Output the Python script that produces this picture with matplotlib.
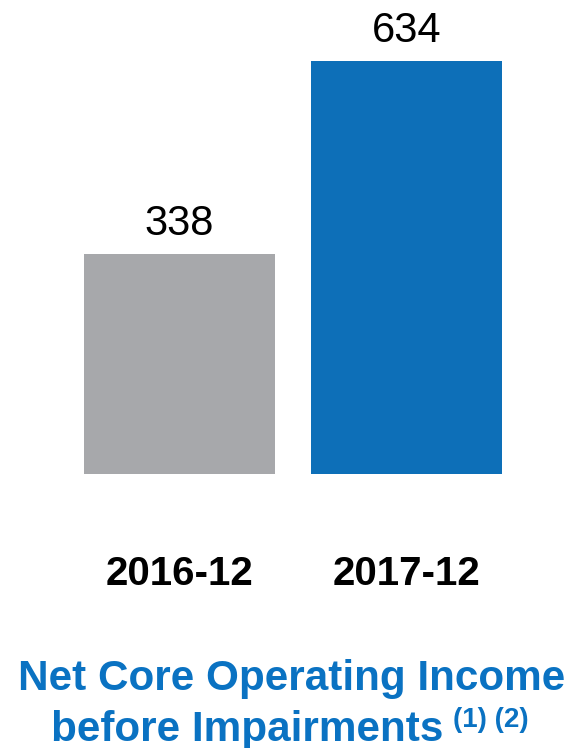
import matplotlib
matplotlib.use('Agg')
import matplotlib.pyplot as plt
import matplotlib.transforms as mtransforms

plt.rcParams['font.family'] = ['Liberation Sans', 'DejaVu Sans']

periods = ['2016-12', '2017-12']
values = [338, 634]
bar_colors = ['#A7A8AB', '#0D6FB8']
title_color = '#0A72C2'

fig = plt.figure(figsize=(5.72, 7.48), dpi=100)
# axes placed so bar baseline and tallest top line up with the reference
ax = fig.add_axes([0, (748 - 473.7) / 748, 1, 412.7 / 748])
ax.set_xlim(-179.5 / 227, (572 - 179.5) / 227)
ax.set_ylim(0, max(values))
ax.axis('off')

x = list(range(len(values)))
ax.bar(x, values, width=0.84, color=bar_colors, clip_on=False)

for xi, v in zip(x, values):
    ax.annotate(str(v), (xi, v), xytext=(0, 13.5), textcoords='offset points',
                ha='center', va='baseline', fontsize=30, color='black',
                annotation_clip=False)

trans = mtransforms.blended_transform_factory(ax.transData, fig.transFigure)
for xi, p in zip(x, periods):
    ax.text(xi, (748 - 585) / 748, p, transform=trans, ha='center',
            va='baseline', fontsize=29, fontweight='bold', color='black')

fig.text(291.5 / 572, (748 - 690) / 748, 'Net Core Operating Income',
         ha='center', va='baseline', fontsize=30.4, fontweight='bold',
         color=title_color)

# second title line plus superscript notes, placed after measuring
line2 = fig.text(51 / 572, (748 - 741) / 748, 'before Impairments',
                 ha='left', va='baseline', fontsize=30.4, fontweight='bold',
                 color=title_color)
renderer = fig.canvas.get_renderer()
bb = line2.get_window_extent(renderer)
fig.text((bb.x1 + 10) / 572, (748 - 727) / 748, '(1) (2)',
         ha='left', va='baseline', fontsize=20, fontweight='bold',
         color=title_color)

fig.savefig('out.png', dpi=100)
